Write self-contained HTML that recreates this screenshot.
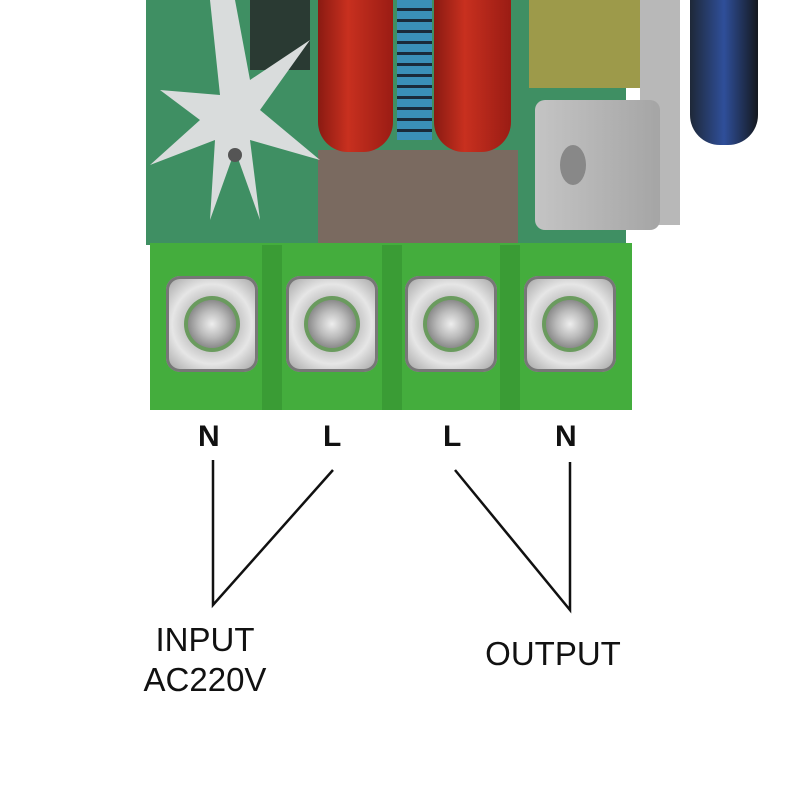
<!DOCTYPE html>
<html><head><style>
body{margin:0;width:800px;height:800px;background:#fff;overflow:hidden;position:relative;font-family:"Liberation Sans",sans-serif}
.a{position:absolute}
.screw{position:absolute;width:92px;height:96px;top:276px;border-radius:14px;background:radial-gradient(circle at 50% 50%,#d8d8d8 0,#b9b9b9 30%,#8a8a8a 36%,#c9c9c9 42%,#e6e6e6 60%,#9a9a9a 100%);box-shadow:inset 0 0 0 3px #777}
.screw:after{content:"";position:absolute;left:22px;top:24px;width:48px;height:48px;border-radius:50%;background:radial-gradient(circle,#eee 0,#bbb 40%,#8c8c8c 70%,#5a8a5a 100%);box-shadow:0 0 0 4px #6a9b5e}
.lbl{position:absolute;font-weight:bold;font-size:30px;color:#111}
.t{position:absolute;font-size:33px;color:#111;line-height:40px;text-align:center}
</style></head><body>
<!-- PCB -->
<div class="a" style="left:146px;top:0;width:480px;height:245px;background:#3f8f63"></div>
<div class="a" style="left:318px;top:150px;width:200px;height:93px;background:#7a6a60"></div>
<div class="a" style="left:250px;top:0;width:60px;height:70px;background:#2a3a33"></div>
<!-- heatsink star -->
<svg class="a" style="left:140px;top:0" width="190" height="240"><polygon points="95,0 110,80 170,40 120,110 180,160 110,140 120,220 95,150 70,220 75,140 10,165 60,120 20,90 80,95 70,0" fill="#d9dcdc"/><circle cx="95" cy="155" r="7" fill="#555"/></svg>
<!-- caps -->
<div class="a" style="left:397px;top:0;width:35px;height:140px;background:repeating-linear-gradient(#3a8fb8 0,#3a8fb8 8px,#1a2a3a 8px,#1a2a3a 11px)"></div>
<div class="a" style="left:318px;top:0;width:75px;height:152px;background:linear-gradient(90deg,#8a1a12,#c8301f 40%,#9a1c14);border-radius:0 0 30px 30px"></div>
<div class="a" style="left:434px;top:0;width:77px;height:152px;background:linear-gradient(90deg,#8a1a12,#c8301f 40%,#9a1c14);border-radius:0 0 30px 30px"></div>
<!-- coil & bracket -->
<div class="a" style="left:529px;top:0;width:117px;height:88px;background:#9d9a4a"></div>
<div class="a" style="left:640px;top:0;width:40px;height:225px;background:#b8b8b8"></div>
<div class="a" style="left:535px;top:100px;width:125px;height:130px;background:linear-gradient(90deg,#c4c4c4,#a5a5a5);border-radius:10px"></div>
<div class="a" style="left:560px;top:145px;width:26px;height:40px;border-radius:50%;background:#888"></div>
<div class="a" style="left:690px;top:0;width:68px;height:145px;background:linear-gradient(90deg,#1e2838,#2f4f9a 50%,#14181e);border-radius:0 0 30px 30px"></div>
<!-- terminal block -->
<div class="a" style="left:150px;top:243px;width:482px;height:167px;background:#44ad3d"></div>
<div class="a" style="left:262px;top:245px;width:20px;height:165px;background:#3a9c35"></div>
<div class="a" style="left:382px;top:245px;width:20px;height:165px;background:#3a9c35"></div>
<div class="a" style="left:500px;top:245px;width:20px;height:165px;background:#3a9c35"></div>
<div class="screw" style="left:166px"></div>
<div class="screw" style="left:286px"></div>
<div class="screw" style="left:405px"></div>
<div class="screw" style="left:524px"></div>
<!-- labels -->
<div class="lbl" style="left:198px;top:420px">N</div>
<div class="lbl" style="left:323px;top:420px">L</div>
<div class="lbl" style="left:443px;top:420px">L</div>
<div class="lbl" style="left:555px;top:420px">N</div>
<svg class="a" style="left:0;top:0" width="800" height="800"><g stroke="#111" stroke-width="2.5" fill="none"><polyline points="213,460 213,605 333,470"/><polyline points="455,470 570,610 570,462"/></g></svg>
<div class="t" style="left:105px;top:620px;width:200px">INPUT<br>AC220V</div>
<div class="t" style="left:453px;top:634px;width:200px">OUTPUT</div>
</body></html>
